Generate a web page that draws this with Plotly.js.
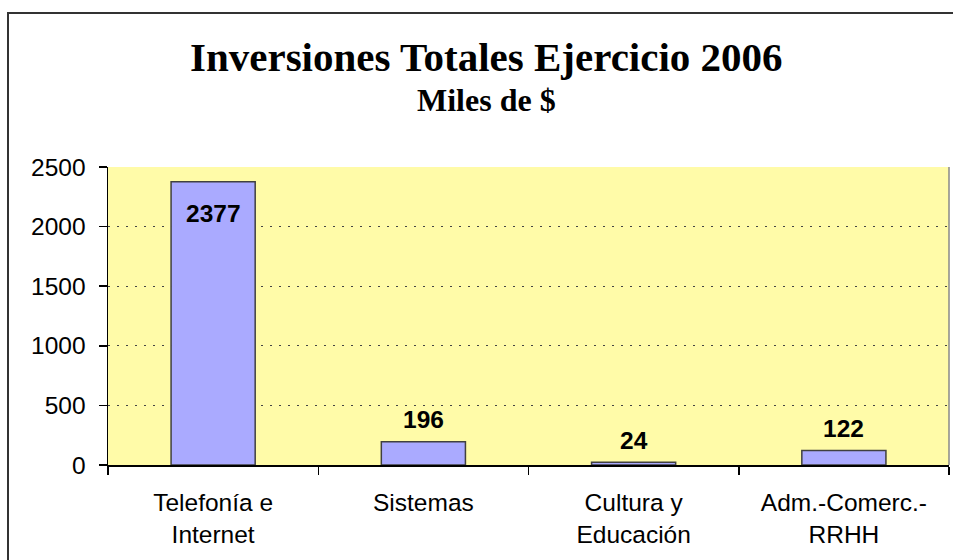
<!DOCTYPE html>
<html>
<head>
<meta charset="utf-8">
<script src="https://cdn.plot.ly/plotly-3.0.1.min.js"></script>
<style>
  html, body { margin: 0; padding: 0; background: #ffffff; }
  #wrap { position: relative; width: 953px; height: 560px; overflow: hidden; }
  #chart { position: absolute; left: 0; top: 0; width: 953px; height: 560px; }
  #frame { position: absolute; left: 7px; top: 12px; width: 960px; height: 600px;
           border-left: 2px solid #333333; border-top: 2px solid #333333; pointer-events: none; }
</style>
</head>
<body>
<div id="wrap">
  <div id="chart"></div>
  <div id="frame"></div>
</div>
<script>
const categories = ["Telefonía e<br>Internet", "Sistemas", "Cultura y<br>Educación", "Adm.-Comerc.-<br>RRHH"];
const values = [2377, 196, 24, 122];
const yTicks = [0, 500, 1000, 1500, 2000, 2500];
const titleText = "Inversiones Totales Ejercicio 2006";
const subtitleText = "Miles de $";

const labelAnnotations = values.map((v, i) => {
  const inside = v > 2000;
  return {
    x: categories[i], y: v, xref: 'x', yref: 'y',
    text: '<b>' + v + '</b>', showarrow: false,
    yanchor: 'middle', yshift: inside ? -32 : 22,
    font: {family: 'Liberation Sans, Arial, sans-serif', size: 24.5, color: '#000000'}
  };
});

const titleAnnotations = [
  {text: '<b>' + titleText + '</b>', xref: 'paper', yref: 'paper', x: 0.5, xshift: -42,
   y: 1, yanchor: 'middle', yshift: 110, showarrow: false,
   font: {family: 'Liberation Serif, Times New Roman, serif', size: 41, color: '#000000'}},
  {text: '<b>' + subtitleText + '</b>', xref: 'paper', yref: 'paper', x: 0.5, xshift: -42,
   y: 1, yanchor: 'middle', yshift: 67, showarrow: false,
   font: {family: 'Liberation Serif, Times New Roman, serif', size: 32, color: '#000000'}}
];

const data = [{
  type: 'bar',
  x: categories,
  y: values,
  marker: {color: '#AAAAFF', line: {color: '#404040', width: 1.5}},
  hoverinfo: 'none'
}];

const axisFont = {family: 'Liberation Sans, Arial, sans-serif', size: 24.5, color: '#000000'};

const layout = {
  width: 953, height: 560,
  margin: {l: 108, r: 4, t: 167, b: 95, pad: 0},
  paper_bgcolor: '#ffffff',
  plot_bgcolor: '#FFFBA8',
  bargap: 0.6,
  showlegend: false,
  xaxis: {
    type: 'category',
    tickson: 'boundaries',
    ticks: 'outside', ticklen: 8, tickcolor: '#000000', tickwidth: 1.5,
    showline: true, linecolor: '#000000', linewidth: 1.5,
    showgrid: false,
    ticklabelstandoff: 15,
    tickfont: axisFont,
    fixedrange: true
  },
  yaxis: {
    range: [0, 2500],
    tickvals: yTicks,
    ticktext: yTicks.map(String),
    ticks: 'outside', ticklen: 8, tickcolor: '#000000', tickwidth: 1.5,
    showline: true, linecolor: '#000000', linewidth: 1.5,
    showgrid: true, gridcolor: '#444444', gridwidth: 1.2, griddash: '2px,7px',
    zeroline: false,
    ticklabelstandoff: 8,
    tickfont: axisFont,
    fixedrange: true
  },
  shapes: [{
    type: 'line', xref: 'paper', yref: 'paper', x0: 1, x1: 1, y0: 0, y1: 1,
    line: {color: '#888888', width: 1.5}
  }],
  annotations: titleAnnotations.concat(labelAnnotations)
};

Plotly.newPlot('chart', data, layout, {displayModeBar: false, staticPlot: true});
</script>
</body>
</html>
